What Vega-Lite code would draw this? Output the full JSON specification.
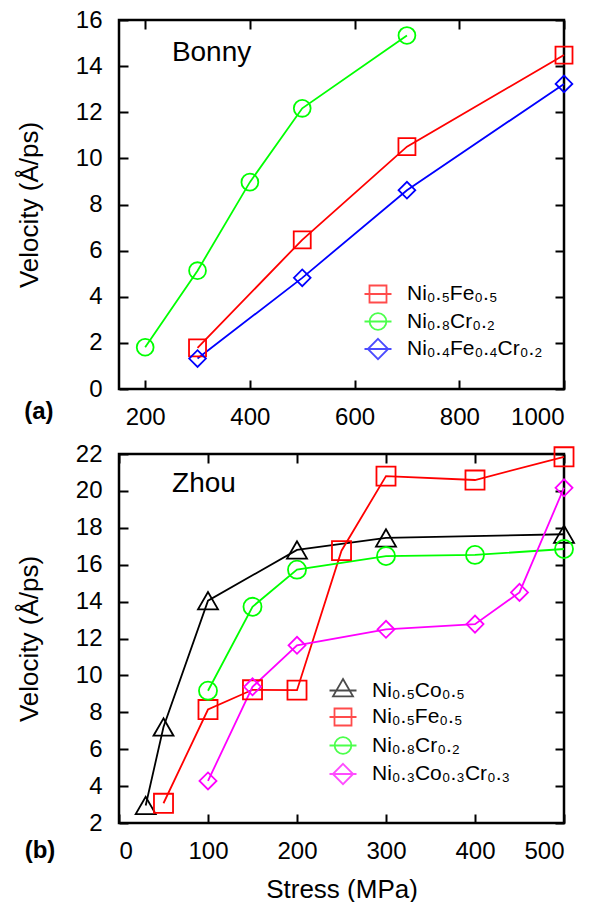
{
  "$schema": "https://vega.github.io/schema/vega-lite/v6.json",
  "padding": {"top": 6, "left": 15, "right": 3, "bottom": 4},
  "autosize": {"type": "pad"},
  "background": "white",
  "spacing": 65,
  "bounds": "flush",
  "config": {
    "font": "Liberation Sans",
    "view": {"stroke": "black", "strokeWidth": 2.5},
    "axis": {"grid": false, "domain": false, "labelFont": "Liberation Sans", "labelFontSize": 24, "labelColor": "black", "titleFont": "Liberation Sans", "titleFontSize": 26, "titleFontWeight": "normal", "titleColor": "black", "tickColor": "black", "tickWidth": 2, "format": "d"},
    "legend": {"labelFont": "Liberation Sans", "labelColor": "black", "labelLimit": 400}
  },
  "datasets": {
    "bonny": [
      {"alloy": "Ni₀.₅Fe₀.₅", "stress": 300, "velocity": 1.78},
      {"alloy": "Ni₀.₅Fe₀.₅", "stress": 500, "velocity": 6.47},
      {"alloy": "Ni₀.₅Fe₀.₅", "stress": 700, "velocity": 10.51},
      {"alloy": "Ni₀.₅Fe₀.₅", "stress": 1000, "velocity": 14.48},
      {"alloy": "Ni₀.₈Cr₀.₂", "stress": 200, "velocity": 1.81},
      {"alloy": "Ni₀.₈Cr₀.₂", "stress": 300, "velocity": 5.13},
      {"alloy": "Ni₀.₈Cr₀.₂", "stress": 400, "velocity": 8.97},
      {"alloy": "Ni₀.₈Cr₀.₂", "stress": 500, "velocity": 12.17},
      {"alloy": "Ni₀.₈Cr₀.₂", "stress": 700, "velocity": 15.33},
      {"alloy": "Ni₀.₄Fe₀.₄Cr₀.₂", "stress": 300, "velocity": 1.32},
      {"alloy": "Ni₀.₄Fe₀.₄Cr₀.₂", "stress": 500, "velocity": 4.82},
      {"alloy": "Ni₀.₄Fe₀.₄Cr₀.₂", "stress": 700, "velocity": 8.62},
      {"alloy": "Ni₀.₄Fe₀.₄Cr₀.₂", "stress": 1000, "velocity": 13.23}
    ],
    "zhou": [
      {"alloy": "Ni₀.₅Co₀.₅", "stress": 30, "velocity": 2.95},
      {"alloy": "Ni₀.₅Co₀.₅", "stress": 50, "velocity": 7.2},
      {"alloy": "Ni₀.₅Co₀.₅", "stress": 100, "velocity": 14.05},
      {"alloy": "Ni₀.₅Co₀.₅", "stress": 200, "velocity": 16.8},
      {"alloy": "Ni₀.₅Co₀.₅", "stress": 300, "velocity": 17.45},
      {"alloy": "Ni₀.₅Co₀.₅", "stress": 500, "velocity": 17.65},
      {"alloy": "Ni₀.₅Fe₀.₅", "stress": 50, "velocity": 3.07},
      {"alloy": "Ni₀.₅Fe₀.₅", "stress": 100, "velocity": 8.15},
      {"alloy": "Ni₀.₅Fe₀.₅", "stress": 150, "velocity": 9.22},
      {"alloy": "Ni₀.₅Fe₀.₅", "stress": 200, "velocity": 9.2},
      {"alloy": "Ni₀.₅Fe₀.₅", "stress": 250, "velocity": 16.76},
      {"alloy": "Ni₀.₅Fe₀.₅", "stress": 300, "velocity": 20.8},
      {"alloy": "Ni₀.₅Fe₀.₅", "stress": 400, "velocity": 20.59},
      {"alloy": "Ni₀.₅Fe₀.₅", "stress": 500, "velocity": 21.85},
      {"alloy": "Ni₀.₈Cr₀.₂", "stress": 100, "velocity": 9.17},
      {"alloy": "Ni₀.₈Cr₀.₂", "stress": 150, "velocity": 13.72},
      {"alloy": "Ni₀.₈Cr₀.₂", "stress": 200, "velocity": 15.73},
      {"alloy": "Ni₀.₈Cr₀.₂", "stress": 300, "velocity": 16.47},
      {"alloy": "Ni₀.₈Cr₀.₂", "stress": 400, "velocity": 16.53},
      {"alloy": "Ni₀.₈Cr₀.₂", "stress": 500, "velocity": 16.85},
      {"alloy": "Ni₀.₃Co₀.₃Cr₀.₃", "stress": 100, "velocity": 4.28},
      {"alloy": "Ni₀.₃Co₀.₃Cr₀.₃", "stress": 150, "velocity": 9.38},
      {"alloy": "Ni₀.₃Co₀.₃Cr₀.₃", "stress": 200, "velocity": 11.63},
      {"alloy": "Ni₀.₃Co₀.₃Cr₀.₃", "stress": 300, "velocity": 12.5},
      {"alloy": "Ni₀.₃Co₀.₃Cr₀.₃", "stress": 400, "velocity": 12.78},
      {"alloy": "Ni₀.₃Co₀.₃Cr₀.₃", "stress": 450, "velocity": 14.5},
      {"alloy": "Ni₀.₃Co₀.₃Cr₀.₃", "stress": 500, "velocity": 20.17}
    ]
  },
  "vconcat": [
    {
      "width": 445,
      "height": 369,
      "data": {"name": "bonny"},
      "layer": [
        {
          "mark": {"type": "line", "strokeWidth": 1.8},
          "encoding": {
            "x": {"field": "stress", "type": "quantitative", "scale": {"domain": [150, 1000], "nice": false, "zero": false}, "axis": {"orient": "bottom", "values": [200, 400, 600, 800, 1000], "ticks": false, "labelPadding": 16, "title": null}},
            "y": {"field": "velocity", "type": "quantitative", "scale": {"domain": [0, 16], "nice": false, "zero": false}, "axis": {"orient": "left", "values": [0, 2, 4, 6, 8, 10, 12, 14, 16], "ticks": false, "labelPadding": 17, "title": "Velocity (Å/ps)", "titlePadding": 33}},
            "color": {"field": "alloy", "type": "nominal", "scale": {"domain": ["Ni₀.₅Fe₀.₅", "Ni₀.₈Cr₀.₂", "Ni₀.₄Fe₀.₄Cr₀.₂"], "range": ["#ff0000", "#00ff00", "#0000ff"]}, "legend": null}
          }
        },
        {
          "mark": {"type": "point", "filled": false, "strokeWidth": 1.8, "opacity": 1},
          "encoding": {
            "x": {"field": "stress", "type": "quantitative", "scale": {"domain": [150, 1000], "nice": false, "zero": false}, "axis": {"orient": "top", "values": [200, 400, 600, 800, 1000], "labels": false, "tickSize": 9, "offset": -9, "tickColor": "black", "title": null}},
            "y": {"field": "velocity", "type": "quantitative", "scale": {"domain": [0, 16], "nice": false, "zero": false}, "axis": {"orient": "right", "values": [0, 2, 4, 6, 8, 10, 12, 14, 16], "labels": false, "tickSize": 9, "offset": -9, "tickColor": "black", "title": null}},
            "color": {"field": "alloy", "type": "nominal", "scale": {"domain": ["Ni₀.₅Fe₀.₅", "Ni₀.₈Cr₀.₂", "Ni₀.₄Fe₀.₄Cr₀.₂"], "range": ["#ff0000", "#00ff00", "#0000ff"]}, "legend": null},
            "shape": {"field": "alloy", "type": "nominal", "scale": {"domain": ["Ni₀.₅Fe₀.₅", "Ni₀.₈Cr₀.₂", "Ni₀.₄Fe₀.₄Cr₀.₂"], "range": ["square", "circle", "diamond"]}, "legend": null},
            "size": {"field": "alloy", "type": "nominal", "scale": {"domain": ["Ni₀.₅Fe₀.₅", "Ni₀.₈Cr₀.₂", "Ni₀.₄Fe₀.₄Cr₀.₂"], "range": [289, 279, 400]}, "legend": null}
          }
        },
        {
          "transform": [{"filter": "datum.velocity > 1000"}],
          "mark": {"type": "point", "filled": false, "strokeWidth": 1.8},
          "encoding": {
            "x": {"field": "stress", "type": "quantitative", "scale": {"domain": [150, 1000], "nice": false, "zero": false}, "axis": {"orient": "bottom", "values": [200, 400, 600, 800, 1000], "labels": false, "tickSize": 9, "offset": -9, "tickColor": "black", "title": null}},
            "y": {"field": "velocity", "type": "quantitative", "scale": {"domain": [0, 16], "nice": false, "zero": false}, "axis": {"orient": "left", "values": [0, 2, 4, 6, 8, 10, 12, 14, 16], "labels": false, "tickSize": 9, "offset": -9, "tickColor": "black", "title": null}},
            "color": {"field": "alloy", "type": "nominal", "scale": {"domain": ["Ni₀.₅Fe₀.₅", "Ni₀.₈Cr₀.₂", "Ni₀.₄Fe₀.₄Cr₀.₂"], "range": ["#ff0000", "#00ff00", "#0000ff"]}, "legend": {"orient": "none", "legendX": 244.5, "legendY": 259.5, "title": null, "labelFontSize": 21, "symbolSize": 729, "symbolStrokeWidth": 1.8, "labelOffset": 14.5, "padding": 0, "rowPadding": 0.5}},
            "shape": {"field": "alloy", "type": "nominal", "scale": {"domain": ["Ni₀.₅Fe₀.₅", "Ni₀.₈Cr₀.₂", "Ni₀.₄Fe₀.₄Cr₀.₂"], "range": ["M-1,0H1M-0.63,-0.63H0.63V0.63H-0.63Z", "M-1,0H1M0.62,0A0.62,0.62,0,1,1,-0.62,0A0.62,0.62,0,1,1,0.62,0Z", "M-1,0H1M0,-0.75L0.75,0L0,0.75L-0.75,0Z"]}, "legend": {"orient": "none", "legendX": 244.5, "legendY": 259.5, "title": null, "labelFontSize": 21, "symbolSize": 729, "symbolStrokeWidth": 1.8, "labelOffset": 14.5, "padding": 0, "rowPadding": 0.5}}
          }
        },
        {
          "data": {"values": [{"stress": 251, "velocity": 14.55, "label": "Bonny"}]},
          "mark": {"type": "text", "align": "left", "baseline": "middle", "fontSize": 28, "font": "Liberation Sans", "color": "black"},
          "encoding": {
            "x": {"field": "stress", "type": "quantitative", "scale": {"domain": [150, 1000], "nice": false, "zero": false}, "axis": null},
            "y": {"field": "velocity", "type": "quantitative", "scale": {"domain": [0, 16], "nice": false, "zero": false}, "axis": null},
            "text": {"field": "label"}
          }
        },
        {
          "data": {"values": [{"stress": -3, "velocity": -1.0, "label": "(a)"}]},
          "mark": {"type": "text", "align": "center", "baseline": "middle", "fontSize": 24, "fontWeight": "bold", "font": "Liberation Sans", "color": "black"},
          "encoding": {
            "x": {"field": "stress", "type": "quantitative", "scale": {"domain": [150, 1000], "nice": false, "zero": false}, "axis": null},
            "y": {"field": "velocity", "type": "quantitative", "scale": {"domain": [0, 16], "nice": false, "zero": false}, "axis": null},
            "text": {"field": "label"}
          }
        }
      ],
      "resolve": {"scale": {"color": "independent", "shape": "independent", "size": "independent"}, "axis": {"x": "independent", "y": "independent"}}
    },
    {
      "width": 445,
      "height": 369,
      "data": {"name": "zhou"},
      "layer": [
        {
          "mark": {"type": "line", "strokeWidth": 1.8},
          "encoding": {
            "x": {"field": "stress", "type": "quantitative", "scale": {"domain": [0, 500], "nice": false, "zero": false}, "axis": {"orient": "bottom", "values": [0, 100, 200, 300, 400, 500], "ticks": false, "labelPadding": 16, "title": "Stress (MPa)", "titlePadding": 13}},
            "y": {"field": "velocity", "type": "quantitative", "scale": {"domain": [2, 22], "nice": false, "zero": false}, "axis": {"orient": "left", "values": [2, 4, 6, 8, 10, 12, 14, 16, 18, 20, 22], "ticks": false, "labelPadding": 17, "title": "Velocity (Å/ps)", "titlePadding": 33}},
            "color": {"field": "alloy", "type": "nominal", "scale": {"domain": ["Ni₀.₅Co₀.₅", "Ni₀.₅Fe₀.₅", "Ni₀.₈Cr₀.₂", "Ni₀.₃Co₀.₃Cr₀.₃"], "range": ["#000000", "#ff0000", "#00ff00", "#ff00ff"]}, "legend": null}
          }
        },
        {
          "mark": {"type": "point", "filled": false, "strokeWidth": 1.8, "opacity": 1},
          "encoding": {
            "x": {"field": "stress", "type": "quantitative", "scale": {"domain": [0, 500], "nice": false, "zero": false}, "axis": {"orient": "top", "values": [0, 100, 200, 300, 400, 500], "labels": false, "tickSize": 9, "offset": -9, "tickColor": "black", "title": null}},
            "y": {"field": "velocity", "type": "quantitative", "scale": {"domain": [2, 22], "nice": false, "zero": false}, "axis": {"orient": "right", "values": [2, 4, 6, 8, 10, 12, 14, 16, 18, 20, 22], "labels": false, "tickSize": 9, "offset": -9, "tickColor": "black", "title": null}},
            "color": {"field": "alloy", "type": "nominal", "scale": {"domain": ["Ni₀.₅Co₀.₅", "Ni₀.₅Fe₀.₅", "Ni₀.₈Cr₀.₂", "Ni₀.₃Co₀.₃Cr₀.₃"], "range": ["#000000", "#ff0000", "#00ff00", "#ff00ff"]}, "legend": null},
            "shape": {"field": "alloy", "type": "nominal", "scale": {"domain": ["Ni₀.₅Co₀.₅", "Ni₀.₅Fe₀.₅", "Ni₀.₈Cr₀.₂", "Ni₀.₃Co₀.₃Cr₀.₃"], "range": ["triangle-up", "square", "circle", "diamond"]}, "legend": null},
            "size": {"field": "alloy", "type": "nominal", "scale": {"domain": ["Ni₀.₅Co₀.₅", "Ni₀.₅Fe₀.₅", "Ni₀.₈Cr₀.₂", "Ni₀.₃Co₀.₃Cr₀.₃"], "range": [400, 289, 279, 400]}, "legend": null}
          }
        },
        {
          "transform": [{"filter": "datum.velocity > 1000"}],
          "mark": {"type": "point", "filled": false, "strokeWidth": 1.8},
          "encoding": {
            "x": {"field": "stress", "type": "quantitative", "scale": {"domain": [0, 500], "nice": false, "zero": false}, "axis": {"orient": "bottom", "values": [0, 100, 200, 300, 400, 500], "labels": false, "tickSize": 9, "offset": -9, "tickColor": "black", "title": null}},
            "y": {"field": "velocity", "type": "quantitative", "scale": {"domain": [2, 22], "nice": false, "zero": false}, "axis": {"orient": "left", "values": [2, 4, 6, 8, 10, 12, 14, 16, 18, 20, 22], "labels": false, "tickSize": 9, "offset": -9, "tickColor": "black", "title": null}},
            "color": {"field": "alloy", "type": "nominal", "scale": {"domain": ["Ni₀.₅Co₀.₅", "Ni₀.₅Fe₀.₅", "Ni₀.₈Cr₀.₂", "Ni₀.₃Co₀.₃Cr₀.₃"], "range": ["#000000", "#ff0000", "#00ff00", "#ff00ff"]}, "legend": {"orient": "none", "legendX": 209.5, "legendY": 222, "title": null, "labelFontSize": 21, "symbolSize": 729, "symbolStrokeWidth": 1.8, "labelOffset": 14.5, "padding": 0, "rowPadding": 1.5}},
            "shape": {"field": "alloy", "type": "nominal", "scale": {"domain": ["Ni₀.₅Co₀.₅", "Ni₀.₅Fe₀.₅", "Ni₀.₈Cr₀.₂", "Ni₀.₃Co₀.₃Cr₀.₃"], "range": ["M-1,0H1M0,-0.85L0.74,0.43H-0.74Z", "M-1,0H1M-0.63,-0.63H0.63V0.63H-0.63Z", "M-1,0H1M0.62,0A0.62,0.62,0,1,1,-0.62,0A0.62,0.62,0,1,1,0.62,0Z", "M-1,0H1M0,-0.75L0.75,0L0,0.75L-0.75,0Z"]}, "legend": {"orient": "none", "legendX": 209.5, "legendY": 222, "title": null, "labelFontSize": 21, "symbolSize": 729, "symbolStrokeWidth": 1.8, "labelOffset": 14.5, "padding": 0, "rowPadding": 1.5}}
          }
        },
        {
          "data": {"values": [{"stress": 59.6, "velocity": 20.37, "label": "Zhou"}]},
          "mark": {"type": "text", "align": "left", "baseline": "middle", "fontSize": 28, "font": "Liberation Sans", "color": "black"},
          "encoding": {
            "x": {"field": "stress", "type": "quantitative", "scale": {"domain": [0, 500], "nice": false, "zero": false}, "axis": null},
            "y": {"field": "velocity", "type": "quantitative", "scale": {"domain": [2, 22], "nice": false, "zero": false}, "axis": null},
            "text": {"field": "label"}
          }
        },
        {
          "data": {"values": [{"stress": -88.8, "velocity": 0.48, "label": "(b)"}]},
          "mark": {"type": "text", "align": "center", "baseline": "middle", "fontSize": 24, "fontWeight": "bold", "font": "Liberation Sans", "color": "black"},
          "encoding": {
            "x": {"field": "stress", "type": "quantitative", "scale": {"domain": [0, 500], "nice": false, "zero": false}, "axis": null},
            "y": {"field": "velocity", "type": "quantitative", "scale": {"domain": [2, 22], "nice": false, "zero": false}, "axis": null},
            "text": {"field": "label"}
          }
        }
      ],
      "resolve": {"scale": {"color": "independent", "shape": "independent", "size": "independent"}, "axis": {"x": "independent", "y": "independent"}}
    }
  ],
  "resolve": {"scale": {"x": "independent", "y": "independent", "color": "independent", "shape": "independent", "size": "independent"}, "legend": {"color": "independent", "shape": "independent"}}
}
